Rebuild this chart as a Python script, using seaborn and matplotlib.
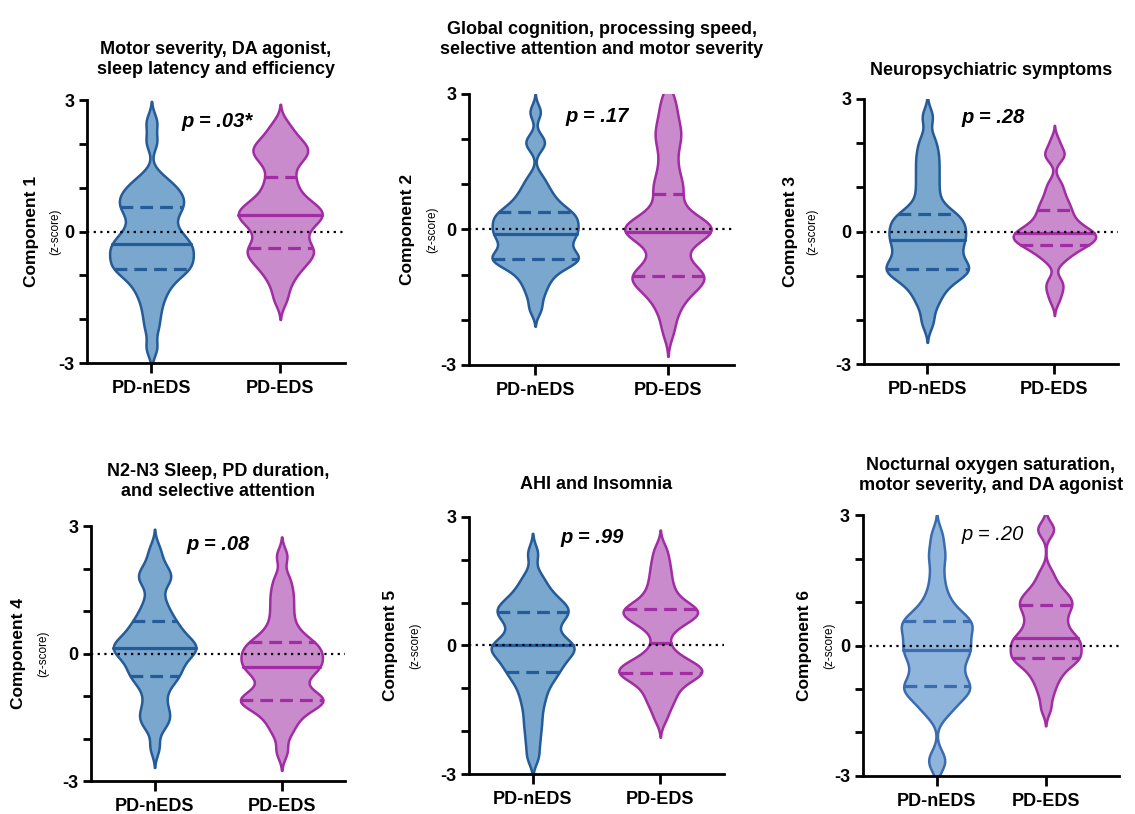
import matplotlib
matplotlib.use("Agg")
import matplotlib.pyplot as plt
import seaborn as sns

# ---------------- data ----------------
groups = ["PD-nEDS", "PD-EDS"]
titles = [
    "Motor severity, DA agonist,\nsleep latency and efficiency",
    "Global cognition, processing speed,\nselective attention and motor severity",
    "Neuropsychiatric symptoms",
    "N2-N3 Sleep, PD duration,\nand selective attention",
    "AHI and Insomnia",
    "Nocturnal oxygen saturation,\nmotor severity, and DA agonist",
]
ylabels = ["Component 1", "Component 2", "Component 3",
           "Component 4", "Component 5", "Component 6"]
ysublabel = "(z-score)"
pvalues = ["p = .03*", "p = .17", "p = .28", "p = .08", "p = .99", "p = .20"]
pvalue_bold = [True, True, True, True, True, False]
ytick_values = [-3, -2, -1, 0, 1, 2, 3]
ytick_labels = ["-3", "", "", "0", "", "", "3"]

c1_neds = [-2.65, -2.2, -1.9, -1.65, -1.45, -1.3, -1.17, -1.06, -0.97, -0.9,
           -0.85, -0.8, -0.74, -0.68, -0.62, -0.56, -0.5, -0.44, -0.38, -0.33,
           -0.28, -0.22, -0.15, -0.08, 0.0, 0.1, 0.2, 0.32, 0.42, 0.5,
           0.57, 0.64, 0.71, 0.78, 0.86, 0.94, 1.02, 1.12, 1.28, 2.05, 2.5]
c1_eds = [-1.55, -1.25, -1.05, -0.9, -0.8, -0.7, -0.62, -0.55, -0.48, -0.42,
          -0.38, -0.3, -0.2, -0.1, 0.0, 0.08, 0.16, 0.23, 0.29, 0.34,
          0.38, 0.43, 0.48, 0.53, 0.59, 0.66, 0.74, 0.84, 0.97, 1.12,
          1.25, 1.45, 1.6, 1.7, 1.78, 1.85, 1.92, 2.0, 2.1, 2.25, 2.45]
c2_neds = [-1.75, -1.45, -1.25, -1.1, -0.98, -0.88, -0.8, -0.74, -0.7, -0.67,
           -0.65, -0.6, -0.55, -0.5, -0.44, -0.38, -0.31, -0.24, -0.18, -0.14,
           -0.1, -0.05, 0.0, 0.05, 0.1, 0.15, 0.2, 0.25, 0.3, 0.34,
           0.38, 0.45, 0.52, 0.6, 0.7, 0.82, 0.95, 1.15, 1.85, 2.0, 2.6]
c2_eds = [-2.25, -1.9, -1.68, -1.52, -1.4, -1.3, -1.22, -1.15, -1.09, -1.05,
          -1.02, -0.97, -0.9, -0.8, -0.66, -0.5, -0.36, -0.24, -0.15, -0.09,
          -0.06, -0.03, 0.0, 0.04, 0.08, 0.13, 0.19, 0.27, 0.38, 0.55,
          0.78, 0.9, 1.05, 1.25, 1.5, 1.78, 2.0, 2.15, 2.35, 2.6, 2.9]
c3_neds = [-2.05, -1.7, -1.5, -1.35, -1.22, -1.12, -1.04, -0.97, -0.92, -0.88,
           -0.85, -0.8, -0.74, -0.68, -0.61, -0.54, -0.47, -0.39, -0.32, -0.26,
           -0.2, -0.14, -0.08, -0.02, 0.04, 0.1, 0.16, 0.23, 0.3, 0.35,
           0.4, 0.5, 0.65, 0.85, 1.05, 1.25, 1.45, 1.65, 1.85, 2.1, 2.6]
c3_eds = [-1.55, -1.35, -1.22, -1.1, -0.68, -0.58, -0.5, -0.43, -0.38, -0.34,
          -0.3, -0.27, -0.24, -0.21, -0.18, -0.15, -0.12, -0.09, -0.07, -0.05,
          -0.03, 0.0, 0.04, 0.08, 0.12, 0.17, 0.22, 0.28, 0.35, 0.42,
          0.49, 0.56, 0.64, 0.73, 0.84, 0.98, 1.12, 1.65, 1.75, 1.82, 2.05]
c4_neds = [-2.2, -1.75, -1.6, -1.48, -1.36, -1.2, -1.0, -0.82, -0.68, -0.58,
           -0.52, -0.44, -0.36, -0.28, -0.2, -0.13, -0.06, 0.0, 0.05, 0.09,
           0.13, 0.17, 0.21, 0.26, 0.31, 0.37, 0.44, 0.52, 0.6, 0.68,
           0.76, 0.88, 1.0, 1.15, 1.35, 1.65, 1.75, 1.85, 1.95, 2.15, 2.45]
c4_eds = [-2.3, -1.9, -1.7, -1.55, -1.42, -1.32, -1.24, -1.18, -1.13, -1.1,
          -1.08, -1.03, -0.97, -0.9, -0.8, -0.68, -0.58, -0.48, -0.41, -0.36,
          -0.31, -0.25, -0.19, -0.13, -0.07, -0.02, 0.04, 0.1, 0.16, 0.22,
          0.27, 0.35, 0.45, 0.58, 0.75, 0.95, 1.15, 1.35, 1.55, 1.8, 2.3]
c5_neds = [-2.6, -2.25, -1.95, -1.7, -1.45, -1.25, -1.08, -0.92, -0.8, -0.7,
           -0.62, -0.53, -0.45, -0.38, -0.31, -0.24, -0.18, -0.12, -0.07, -0.03,
           0.0, 0.05, 0.1, 0.18, 0.28, 0.38, 0.48, 0.57, 0.65, 0.72,
           0.77, 0.82, 0.87, 0.93, 1.0, 1.08, 1.18, 1.3, 1.45, 1.65, 2.15]
c5_eds = [-1.7, -1.45, -1.3, -1.18, -1.05, -0.95, -0.86, -0.78, -0.72, -0.68,
          -0.65, -0.62, -0.59, -0.55, -0.51, -0.46, -0.41, -0.35, -0.27, -0.15,
          0.05, 0.3, 0.45, 0.53, 0.6, 0.66, 0.71, 0.75, 0.79, 0.82,
          0.85, 0.9, 0.97, 1.06, 1.17, 1.3, 1.45, 1.62, 1.8, 2.0, 2.25]
c6_neds = [-2.75, -2.55, -1.6, -1.45, -1.32, -1.22, -1.13, -1.05, -1.0, -0.96,
           -0.92, -0.83, -0.74, -0.65, -0.56, -0.47, -0.38, -0.29, -0.21, -0.15,
           -0.1, -0.03, 0.04, 0.11, 0.19, 0.26, 0.33, 0.41, 0.47, 0.52,
           0.56, 0.62, 0.7, 0.8, 0.92, 1.08, 1.3, 1.6, 1.95, 2.2, 2.55]
c6_eds = [-1.45, -1.15, -0.95, -0.8, -0.68, -0.58, -0.49, -0.42, -0.36, -0.32,
          -0.29, -0.24, -0.19, -0.14, -0.09, -0.04, 0.01, 0.06, 0.11, 0.15,
          0.18, 0.24, 0.31, 0.39, 0.47, 0.55, 0.63, 0.72, 0.8, 0.87,
          0.93, 0.98, 1.04, 1.1, 1.17, 1.25, 1.35, 1.5, 1.7, 2.62, 2.72]

component_data = [(c1_neds, c1_eds), (c2_neds, c2_eds), (c3_neds, c3_eds),
                  (c4_neds, c4_eds), (c5_neds, c5_eds), (c6_neds, c6_eds)]

# ---------------- style / layout ----------------
sns.set_theme(style="ticks")
plt.rcParams["font.family"] = ["Liberation Sans", "DejaVu Sans"]
plt.rcParams["text.color"] = "black"
plt.rcParams["axes.labelcolor"] = "black"
plt.rcParams["xtick.color"] = "black"
plt.rcParams["ytick.color"] = "black"

blue_fill, blue_edge = "#79a7cd", "#245b98"
blue6_fill, blue6_edge = "#8fb5dd", "#3c6cb0"
pink_fill, pink_edge = "#c98bcb", "#a12ca4"

rects = [
    [0.0767, 0.554, 0.227, 0.323],
    [0.413, 0.5516, 0.234, 0.333],
    [0.761, 0.5528, 0.224, 0.3256],
    [0.0802, 0.0405, 0.224, 0.313],
    [0.413, 0.0491, 0.225, 0.316],
    [0.760, 0.0467, 0.2256, 0.3206],
]
xlims = [(-0.5, 1.5)] * 5 + [(-0.68, 1.67)]
title_pads = [19, 29, 17, 22, 20, 18]
label_off = [(56, 32), (61, 37), (73, 51), (73, 48), (78, 54), (58, 33)]
p_pos = [(0.51, 2.52), (0.47, 2.49), (0.52, 2.59), (0.5, 2.58), (0.47, 2.51), (0.51, 2.56)]

fig = plt.figure(figsize=(11.35, 8.14), dpi=100)

for i in range(6):
    ax = fig.add_axes(rects[i])
    d_neds, d_eds = component_data[i]
    fills = [(blue6_fill if i == 5 else blue_fill, blue6_edge if i == 5 else blue_edge),
             (pink_fill, pink_edge)]
    for g, vals, (fc, ec) in zip(groups, (d_neds, d_eds), fills):
        n_before = len(ax.lines)
        sns.violinplot(x=[g] * len(vals), y=vals, order=groups, ax=ax,
                       color=fc, linecolor=ec, linewidth=1.8, saturation=1,
                       inner="quart", inner_kws=dict(color=ec, linewidth=2.3),
                       density_norm="width", width=0.65, bw_adjust=0.38, cut=2.4)
        new = ax.lines[n_before:]
        for k, ln in enumerate(new):
            ln.set_color(ec)
            if k % 3 == 1:
                ln.set_linestyle("-")
            else:
                ln.set_linestyle((0, (4.0, 2.2)))
    ax.axhline(0, color="black", linestyle=(0, (1, 2)), linewidth=1.6, zorder=6)
    ax.set_ylim(-3, 3)
    ax.set_xlim(*xlims[i])
    ax.set_yticks(ytick_values)
    ax.set_yticklabels(ytick_labels, fontsize=13, fontweight="bold")
    ax.set_xticks([0, 1])
    ax.set_xticklabels(groups, fontsize=13, fontweight="bold")
    ax.set_xlabel("")
    ax.set_ylabel("")
    for s in ["top", "right"]:
        ax.spines[s].set_visible(False)
    for s in ["left", "bottom"]:
        ax.spines[s].set_linewidth(2.0)
        ax.spines[s].set_color("black")
    ax.tick_params(axis="y", length=6, width=2.0, color="black", pad=3)
    ax.tick_params(axis="x", length=7, width=2.0, color="black", pad=5)
    ax.set_title(titles[i], fontsize=13, fontweight="bold", pad=title_pads[i], linespacing=1.2)
    o1, o2 = label_off[i]
    ax.annotate(ylabels[i], xy=(0, 0.5), xycoords="axes fraction",
                xytext=(-o1 * 0.72, 0), textcoords="offset points",
                rotation=90, ha="center", va="center", fontsize=12.5, fontweight="bold")
    ax.annotate(ysublabel, xy=(0, 0.5), xycoords="axes fraction",
                xytext=(-o2 * 0.72, 0), textcoords="offset points",
                rotation=90, ha="center", va="center", fontsize=8.5)
    px, py = p_pos[i]
    ax.text(px, py, pvalues[i], ha="center", va="center", fontsize=14.5,
            style="italic", fontweight="bold" if pvalue_bold[i] else "normal")

fig.savefig("out.png", dpi=100)
